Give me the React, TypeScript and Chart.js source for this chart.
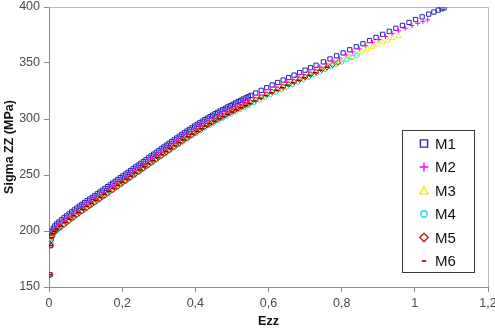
import { useEffect, useRef } from "react";
import { Chart, registerables } from "chart.js";

Chart.register(...registerables);

// ---- tick positions ----
const xTicks = [0, 0.2, 0.4, 0.6, 0.8, 1, 1.2];
const yTicks = [150, 200, 250, 300, 350, 400];

// ---- series: Ezz (strain) and Sigma ZZ (MPa) ----
const seriesNames = ["M1", "M2", "M3", "M4", "M5", "M6"];

const m1Ezz = [0.003, 0.005, 0.007, 0.009, 0.012, 0.016, 0.021, 0.027, 0.034, 0.041, 0.048, 0.055, 0.062, 0.069, 0.076, 0.083, 0.09, 0.097, 0.104, 0.111, 0.118, 0.125, 0.132, 0.139, 0.146, 0.153, 0.16, 0.167, 0.174, 0.181, 0.188, 0.195, 0.202, 0.209, 0.216, 0.223, 0.23, 0.237, 0.244, 0.251, 0.258, 0.265, 0.272, 0.279, 0.286, 0.293, 0.3, 0.307, 0.314, 0.321, 0.328, 0.335, 0.342, 0.349, 0.356, 0.363, 0.37, 0.377, 0.384, 0.391, 0.398, 0.405, 0.412, 0.419, 0.426, 0.433, 0.44, 0.447, 0.454, 0.461, 0.468, 0.475, 0.482, 0.489, 0.496, 0.503, 0.51, 0.517, 0.524, 0.531, 0.538, 0.545, 0.552, 0.565, 0.58, 0.595, 0.61, 0.625, 0.64, 0.655, 0.67, 0.685, 0.7, 0.715, 0.73, 0.75, 0.768, 0.786, 0.804, 0.822, 0.84, 0.858, 0.876, 0.894, 0.912, 0.93, 0.948, 0.966, 0.984, 1.002, 1.02, 1.038, 1.052, 1.064, 1.074, 1.08];
const m1Sigma = [161, 187, 196, 200, 202.5, 204.5, 206.3, 208, 210, 211.8, 213.5, 215.2, 217, 218.8, 220.5, 222.2, 223.8, 225.4, 227, 228.5, 230, 231.6, 233.2, 234.8, 236.4, 238, 239.6, 241.2, 242.8, 244.4, 246, 247.6, 249.2, 250.8, 252.4, 254, 255.6, 257.2, 258.8, 260.4, 262, 263.6, 265.3, 267, 268.6, 270.2, 271.8, 273.4, 275, 276.6, 278.2, 279.8, 281.4, 283, 284.6, 286.2, 287.7, 289.2, 290.7, 292.2, 293.7, 295.2, 296.6, 298, 299.4, 300.8, 302.1, 303.4, 304.7, 306, 307.2, 308.4, 309.6, 310.8, 312, 313.2, 314.4, 315.6, 316.7, 317.8, 318.9, 320, 321.1, 323.2, 325.6, 328, 330.4, 332.6, 334.8, 337, 339.2, 341.4, 343.6, 345.8, 348, 351, 353.6, 356.4, 359, 361.8, 364.5, 367.2, 370, 372.8, 375.6, 378.3, 381, 383.6, 386.2, 388.8, 391.2, 393.6, 395.5, 397.2, 398.5, 399.3];

const m2Ezz = [0.004, 0.008, 0.013, 0.02, 0.03, 0.042, 0.054, 0.066, 0.078, 0.09, 0.102, 0.114, 0.126, 0.138, 0.15, 0.162, 0.174, 0.186, 0.198, 0.21, 0.222, 0.234, 0.246, 0.258, 0.27, 0.282, 0.294, 0.306, 0.318, 0.33, 0.342, 0.354, 0.366, 0.378, 0.39, 0.402, 0.414, 0.426, 0.438, 0.45, 0.462, 0.474, 0.486, 0.498, 0.51, 0.522, 0.534, 0.546, 0.56, 0.575, 0.59, 0.605, 0.62, 0.635, 0.65, 0.665, 0.68, 0.695, 0.71, 0.725, 0.74, 0.758, 0.776, 0.794, 0.812, 0.83, 0.848, 0.866, 0.884, 0.902, 0.92, 0.938, 0.956, 0.974, 0.992, 1.008, 1.022, 1.035];
const m2Sigma = [190, 197, 200.5, 203.3, 206, 209, 212.2, 215.2, 218.3, 221, 223.8, 226.5, 229.2, 231.8, 234.6, 237.2, 240, 242.8, 245.5, 248.2, 251, 253.7, 256.5, 259.2, 262, 264.8, 267.5, 270.2, 273, 275.6, 278.4, 281, 283.6, 286.2, 288.8, 291.3, 293.7, 296.1, 298.4, 300.6, 302.7, 304.8, 306.8, 308.8, 310.8, 312.8, 314.7, 316.6, 319, 321.4, 323.8, 326.2, 328.5, 330.7, 333, 335.3, 337.6, 339.8, 342, 344.3, 346.6, 349.2, 351.8, 354.5, 357.2, 360, 362.7, 365.4, 368.2, 371, 373.6, 376.2, 378.6, 381, 383.4, 385.4, 387, 388.5];

const m3Ezz = [0.006, 0.01, 0.016, 0.024, 0.036, 0.048, 0.06, 0.072, 0.084, 0.096, 0.108, 0.12, 0.132, 0.144, 0.156, 0.168, 0.18, 0.192, 0.204, 0.216, 0.228, 0.24, 0.252, 0.264, 0.276, 0.288, 0.3, 0.312, 0.324, 0.336, 0.348, 0.36, 0.372, 0.384, 0.396, 0.408, 0.42, 0.432, 0.444, 0.456, 0.468, 0.48, 0.492, 0.504, 0.516, 0.528, 0.54, 0.552, 0.567, 0.582, 0.597, 0.612, 0.627, 0.642, 0.657, 0.672, 0.687, 0.702, 0.717, 0.732, 0.75, 0.768, 0.786, 0.804, 0.822, 0.84, 0.856, 0.87, 0.884, 0.898, 0.912, 0.926, 0.94, 0.955];
const m3Sigma = [193, 196.5, 199.5, 201.8, 204.5, 207.6, 210.6, 213.6, 216.5, 219.3, 222, 224.6, 227.4, 230, 232.8, 235.5, 238.2, 241, 243.7, 246.5, 249.2, 252, 254.7, 257.4, 260.2, 263, 265.7, 268.5, 271.2, 273.9, 276.6, 279.2, 281.8, 284.4, 287, 289.4, 291.8, 294.2, 296.4, 298.6, 300.8, 302.8, 304.8, 306.8, 308.8, 310.7, 312.6, 314.5, 316.9, 319.3, 321.7, 324, 326.3, 328.5, 330.7, 333, 335.2, 337.4, 339.7, 342, 344.7, 347.4, 350, 352.7, 355.4, 358, 360.4, 362.4, 364.5, 366.5, 368.5, 370.3, 372.2, 374];

const m4Ezz = [0.005, 0.009, 0.014, 0.021, 0.03, 0.042, 0.054, 0.066, 0.078, 0.09, 0.102, 0.114, 0.126, 0.138, 0.15, 0.162, 0.174, 0.186, 0.198, 0.21, 0.222, 0.234, 0.246, 0.258, 0.27, 0.282, 0.294, 0.306, 0.318, 0.33, 0.342, 0.354, 0.366, 0.378, 0.39, 0.402, 0.414, 0.426, 0.438, 0.45, 0.462, 0.474, 0.486, 0.498, 0.51, 0.522, 0.534, 0.546, 0.56, 0.575, 0.59, 0.605, 0.62, 0.635, 0.65, 0.665, 0.68, 0.695, 0.71, 0.725, 0.74, 0.755, 0.77, 0.785, 0.8, 0.814, 0.828, 0.842];
const m4Sigma = [190, 195, 197.8, 200.2, 202.5, 205.6, 208.6, 211.6, 214.6, 217.4, 220.2, 222.8, 225.5, 228.2, 231, 233.6, 236.4, 239, 241.8, 244.6, 247.2, 250, 252.8, 255.5, 258.2, 261, 263.7, 266.4, 269.1, 271.8, 274.5, 277.1, 279.7, 282.3, 284.8, 287.3, 289.6, 292, 294.2, 296.4, 298.5, 300.6, 302.6, 304.6, 306.5, 308.4, 310.3, 312.2, 314.6, 317, 319.4, 321.8, 324, 326.2, 328.5, 330.8, 333, 335.2, 337.4, 339.7, 342, 344.3, 346.5, 348.8, 351, 353, 355, 357];

const m5Ezz = [0.003, 0.005, 0.006, 0.008, 0.011, 0.015, 0.02, 0.026, 0.033, 0.04, 0.047, 0.054, 0.061, 0.068, 0.075, 0.082, 0.089, 0.096, 0.103, 0.11, 0.117, 0.124, 0.131, 0.138, 0.145, 0.152, 0.159, 0.166, 0.173, 0.18, 0.187, 0.194, 0.201, 0.208, 0.215, 0.222, 0.229, 0.236, 0.243, 0.25, 0.257, 0.264, 0.271, 0.278, 0.285, 0.292, 0.299, 0.306, 0.313, 0.32, 0.327, 0.334, 0.341, 0.348, 0.355, 0.362, 0.369, 0.376, 0.383, 0.39, 0.397, 0.404, 0.411, 0.418, 0.425, 0.432, 0.439, 0.446, 0.453, 0.46, 0.467, 0.474, 0.481, 0.488, 0.495, 0.502, 0.509, 0.516, 0.523, 0.53, 0.537, 0.544, 0.551, 0.565, 0.58, 0.595, 0.61, 0.625, 0.64, 0.655, 0.67, 0.685, 0.7, 0.715, 0.73, 0.745, 0.76, 0.775, 0.79];
const m5Sigma = [161, 187, 192, 195, 197.5, 199.5, 200.5, 202, 203.8, 205.5, 207.2, 209, 210.8, 212.5, 214.2, 216, 217.6, 219.2, 220.8, 222.3, 223.8, 225.4, 227, 228.6, 230.2, 231.8, 233.4, 235, 236.6, 238.2, 239.8, 241.4, 243, 244.6, 246.2, 247.8, 249.4, 251, 252.6, 254.2, 255.8, 257.4, 259, 260.7, 262.3, 263.9, 265.5, 267.1, 268.7, 270.3, 271.9, 273.5, 275.1, 276.7, 278.3, 279.9, 281.4, 282.9, 284.4, 285.9, 287.4, 288.9, 290.3, 291.7, 293.1, 294.5, 295.8, 297.1, 298.4, 299.7, 300.9, 302.1, 303.3, 304.5, 305.7, 306.9, 308.1, 309.3, 310.4, 311.5, 312.6, 313.7, 314.8, 317, 319.4, 321.8, 324.2, 326.4, 328.6, 330.8, 333, 335.2, 337.4, 339.6, 341.8, 344, 346.2, 348.4, 350.5];

const m6Ezz = [0.003, 0.005, 0.007, 0.01, 0.015, 0.022, 0.032, 0.044, 0.056, 0.068, 0.08, 0.092, 0.104, 0.116, 0.128, 0.14, 0.152, 0.164, 0.176, 0.188, 0.2, 0.212, 0.224, 0.236, 0.248, 0.26, 0.272, 0.284, 0.296, 0.308, 0.32, 0.332, 0.344, 0.356, 0.368, 0.38, 0.392, 0.404, 0.416, 0.428, 0.44, 0.452, 0.464, 0.476, 0.488, 0.5, 0.512, 0.524, 0.536, 0.548, 0.562, 0.577, 0.592, 0.607, 0.622, 0.637, 0.652, 0.667, 0.682, 0.697, 0.712, 0.727, 0.742, 0.76];
const m6Sigma = [161, 187, 194, 197.5, 199.8, 201.8, 204.3, 207.5, 210.5, 213.5, 216.4, 219.2, 222, 224.6, 227.3, 230, 232.7, 235.4, 238.1, 240.8, 243.6, 246.3, 249, 251.8, 254.5, 257.3, 260, 262.8, 265.5, 268.2, 270.9, 273.6, 276.2, 278.8, 281.4, 284, 286.5, 289, 291.3, 293.6, 295.9, 298, 300.2, 302.2, 304.2, 306.2, 308.2, 310.1, 312, 313.9, 316.2, 318.6, 321, 323.4, 325.7, 328, 330.2, 332.4, 334.6, 336.8, 339, 341.3, 343.6, 346.3];

const seriesEzz = [m1Ezz, m2Ezz, m3Ezz, m4Ezz, m5Ezz, m6Ezz];
const seriesSigma = [m1Sigma, m2Sigma, m3Sigma, m4Sigma, m5Sigma, m6Sigma];

// ---- styling ----
const FONT = "'Liberation Sans', Arial, sans-serif";
const seriesColors = ["#2424b8", "#ff00ff", "#eeee10", "#22e0e0", "#d01a1a", "#7a0a0a"];
const seriesStyles = ["rect", "cross", "triangle", "circle", "rectRot", "line"];
const seriesRadius = [3, 2.6, 3, 2.3, 2.8, 2.2];
const legendRadius = [3.6, 4.4, 4.2, 3.2, 4.2, 2.2];

function drawMarker(ctx: CanvasRenderingContext2D, style: string, x: number, y: number, r: number, color: string) {
  ctx.save();
  ctx.strokeStyle = color;
  ctx.lineWidth = style === "line" ? 1.6 : 1.4;
  ctx.beginPath();
  if (style === "rect") {
    ctx.rect(x - r, y - r, 2 * r, 2 * r);
  } else if (style === "cross") {
    ctx.moveTo(x - r, y);
    ctx.lineTo(x + r, y);
    ctx.moveTo(x, y - r);
    ctx.lineTo(x, y + r);
  } else if (style === "triangle") {
    ctx.moveTo(x, y - r);
    ctx.lineTo(x + r, y + r * 0.8);
    ctx.lineTo(x - r, y + r * 0.8);
    ctx.closePath();
  } else if (style === "circle") {
    ctx.arc(x, y, r, 0, Math.PI * 2);
  } else if (style === "rectRot") {
    ctx.moveTo(x, y - r);
    ctx.lineTo(x + r, y);
    ctx.lineTo(x, y + r);
    ctx.lineTo(x - r, y);
    ctx.closePath();
  } else {
    ctx.moveTo(x - r, y);
    ctx.lineTo(x + r, y);
  }
  ctx.stroke();
  ctx.restore();
}

// light frame on the top and right of the plot area
const plotFrame = {
  id: "plotFrame",
  beforeDatasetsDraw(chart: any) {
    const { ctx, chartArea } = chart;
    ctx.save();
    ctx.strokeStyle = "#b8b8b8";
    ctx.lineWidth = 1;
    ctx.beginPath();
    ctx.moveTo(chartArea.left, Math.round(chartArea.top) + 0.5);
    ctx.lineTo(Math.round(chartArea.right) + 0.5, Math.round(chartArea.top) + 0.5);
    ctx.lineTo(Math.round(chartArea.right) + 0.5, chartArea.bottom);
    ctx.stroke();
    ctx.restore();
  },
};

// boxed legend inside the plot area, lower right
const boxLegend = {
  id: "boxLegend",
  afterDatasetsDraw(chart: any) {
    const { ctx, chartArea } = chart;
    const left = Math.round(chartArea.right) - 86;
    const top = 130;
    const w = 72;
    const h = 142;
    ctx.save();
    ctx.fillStyle = "#ffffff";
    ctx.fillRect(left, top, w, h);
    ctx.strokeStyle = "#3a3a3a";
    ctx.lineWidth = 1;
    ctx.strokeRect(left + 0.5, top + 0.5, w, h);
    ctx.font = `15px ${FONT}`;
    ctx.textBaseline = "middle";
    ctx.textAlign = "left";
    chart.data.datasets.forEach((ds: any, i: number) => {
      const cy = top + 13.5 + i * 23.5;
      drawMarker(ctx, seriesStyles[i], left + 22, cy, legendRadius[i], seriesColors[i]);
      ctx.fillStyle = "#111";
      ctx.fillText(ds.label, left + 33, cy + 1);
    });
    ctx.restore();
  },
};

export default function App() {
  const canvasRef = useRef<HTMLCanvasElement | null>(null);

  useEffect(() => {
    const canvas = canvasRef.current;
    if (!canvas) return;

    const datasets = seriesNames.map((name, i) => {
      const xs = seriesEzz[i];
      const ys = seriesSigma[i];
      const n = Math.min(xs.length, ys.length);
      const points = [];
      for (let k = 0; k < n; k++) points.push({ x: xs[k], y: ys[k] });
      return {
        label: name,
        data: points,
        showLine: false,
        pointStyle: seriesStyles[i],
        pointRadius: seriesRadius[i],
        pointBorderWidth: seriesStyles[i] === "line" ? 1.5 : 1,
        borderColor: seriesColors[i],
        backgroundColor: "rgba(0,0,0,0)",
        order: seriesNames.length - i,
      };
    });

    const chart = new Chart(canvas, {
      type: "scatter",
      data: { datasets },
      plugins: [plotFrame, boxLegend],
      options: {
        animation: false,
        responsive: false,
        layout: { padding: { top: 7, right: 7, left: 0, bottom: 0 } },
        plugins: {
          legend: { display: false },
          tooltip: { enabled: false },
        },
        scales: {
          x: {
            type: "linear",
            min: 0,
            max: 1.2,
            afterBuildTicks: (s: any) => {
              s.ticks = xTicks.map((v) => ({ value: v }));
            },
            afterFit: (s: any) => {
              s.height = 44;
              s.paddingLeft = 0;
              s.paddingRight = 0;
            },
            ticks: {
              autoSkip: false,
              maxRotation: 0,
              padding: 4,
              color: "#4a4a4a",
              font: { family: FONT, size: 12.5 },
              callback: (v: any) => String(v).replace(".", ","),
            },
            grid: { drawOnChartArea: false, drawTicks: true, tickLength: 5, color: "#8a8a8a", tickColor: "#8a8a8a" },
            border: { display: true, color: "#8a8a8a", width: 1 },
            title: {
              display: true,
              text: "Ezz",
              color: "#111",
              font: { family: FONT, size: 12.5, weight: "bold" },
              padding: { top: 0, bottom: 2 },
            },
          },
          y: {
            type: "linear",
            min: 150,
            max: 400,
            afterBuildTicks: (s: any) => {
              s.ticks = yTicks.map((v) => ({ value: v }));
            },
            afterFit: (s: any) => {
              s.width = 49;
              s.paddingTop = 0;
              s.paddingBottom = 0;
            },
            ticks: {
              autoSkip: false,
              padding: 4,
              color: "#4a4a4a",
              font: { family: FONT, size: 12.5 },
            },
            grid: { drawOnChartArea: false, drawTicks: true, tickLength: 5, color: "#8a8a8a", tickColor: "#8a8a8a" },
            border: { display: true, color: "#8a8a8a", width: 1 },
            title: {
              display: true,
              text: "Sigma ZZ (MPa)",
              color: "#111",
              font: { family: FONT, size: 12.5, weight: "bold" },
              padding: { top: 2, bottom: 0 },
            },
          },
        },
      },
    } as any);

    return () => chart.destroy();
  }, []);

  return (
    <div style={{ position: "fixed", left: 0, top: 0, width: 495, height: 331, background: "#fff" }}>
      <canvas ref={canvasRef} width={495} height={331} style={{ display: "block", width: 495, height: 331 }} />
    </div>
  );
}
